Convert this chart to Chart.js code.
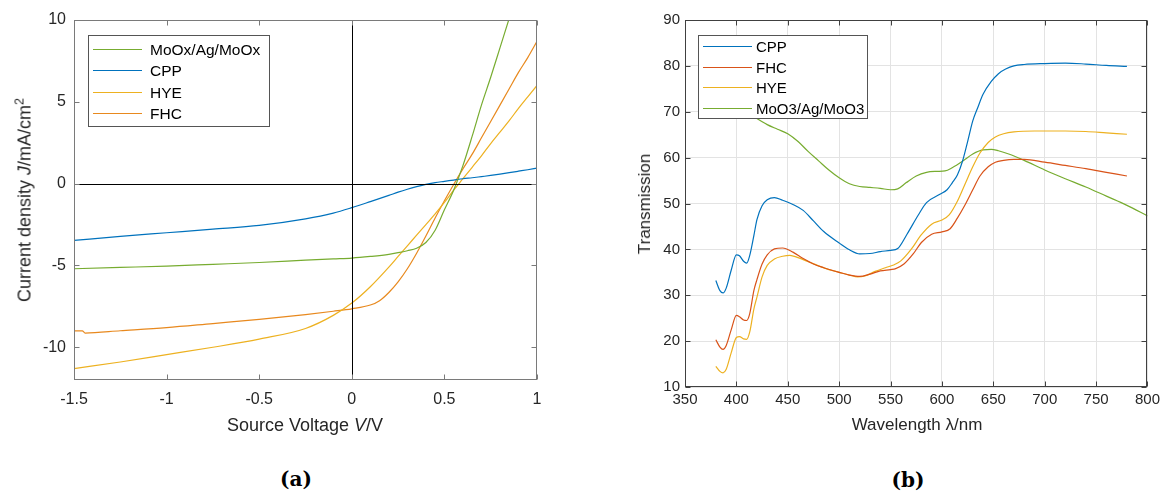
<!DOCTYPE html>
<html>
<head>
<meta charset="utf-8">
<script src="https://cdn.jsdelivr.net/npm/chart.js@4.4.1/dist/chart.umd.min.js"></script>
<style>
  body { margin: 0; background: #fff; }
  #page { position: relative; width: 1164px; height: 491px; overflow: hidden; background: #fff;
          font-family: 'Liberation Sans', Arial, sans-serif; color: #262626; }
  canvas { position: absolute; top: 0; }
  .lbl { position: absolute; white-space: nowrap; transform: translate(-50%, -50%); }
  .rot { transform: translate(-50%, -50%) rotate(-90deg); }
  .cap { position: absolute; font-family: 'DejaVu Serif', 'Liberation Serif', serif; font-weight: bold;
         font-size: 20px; color: #000; transform: translate(-50%, -50%); }
  sup { font-size: 0.7em; }
</style>
</head>
<body>
<div id="page">
  <canvas id="jv" width="560" height="430" style="left:0"></canvas>
  <canvas id="tr" width="574" height="440" style="left:590px"></canvas>

  <div class="lbl" style="left:305px; top:425px; font-size:18px">Source Voltage <i>V</i>/V</div>
  <div class="lbl rot" style="left:24px; top:200px; font-size:18px">Current density <i>J</i>/mA/cm<sup>2</sup></div>
  <div class="lbl" style="left:917px; top:425px; font-size:17px">Wavelength &lambda;/nm</div>
  <div class="lbl rot" style="left:645px; top:204px; font-size:17px">Transmission</div>
  <div class="cap" style="left:296px; top:479px">(a)</div>
  <div class="cap" style="left:908px; top:480px">(b)</div>
</div>
<script>
// (a) J-V curves
var jvTicksX = [-1.5, -1, -0.5, 0, 0.5, 1];
var jvTicksY = [-10, -5, 0, 5, 10];
var jvVoltage = [-1.5, -1.25, -1.0, -0.75, -0.5, -0.25, -0.1, 0, 0.1, 0.2, 0.25, 0.3, 0.35, 0.4, 0.45, 0.5, 0.55, 0.6, 0.65, 0.7, 0.75, 0.8, 0.85, 0.9, 0.95, 1.0];
var jvMoOx = [-5.2, -5.12, -5.04, -4.93, -4.82, -4.68, -4.6, -4.55, -4.45, -4.32, -4.22, -4.1, -3.95, -3.6, -2.85, -1.6, -0.4, 1.1, 2.9, 4.8, 6.5, 8.3, 10.1, 11.9, 13.7, 15.5];
var jvCPP = [-3.47, -3.22, -3.0, -2.78, -2.55, -2.15, -1.8, -1.47, -1.1, -0.72, -0.52, -0.34, -0.18, -0.04, 0.06, 0.14, 0.22, 0.3, 0.36, 0.43, 0.5, 0.58, 0.67, 0.76, 0.85, 0.95];
var jvHYE = [-11.3, -10.9, -10.45, -10.0, -9.5, -8.85, -8.05, -7.3, -6.3, -5.1, -4.45, -3.8, -3.15, -2.5, -1.85, -1.15, -0.4, 0.3, 1.0, 1.7, 2.45, 3.15, 3.85, 4.6, 5.3, 6.0];
var fhcVoltage = [-1.5, -1.455, -1.44, -1.25, -1.0, -0.75, -0.5, -0.25, -0.1, 0, 0.1, 0.15, 0.2, 0.25, 0.3, 0.35, 0.4, 0.45, 0.5, 0.55, 0.6, 0.65, 0.7, 0.75, 0.8, 0.85, 0.9, 0.95, 1.0];
var jvFHC = [-9.0, -9.0, -9.13, -8.99, -8.8, -8.55, -8.3, -8.0, -7.8, -7.65, -7.42, -7.15, -6.65, -6.0, -5.2, -4.25, -3.2, -2.1, -1.05, -0.05, 0.9, 1.8, 2.8, 3.8, 4.8, 5.8, 6.8, 7.7, 8.7];

// (b) transmission spectra
var trTicksX = [350, 400, 450, 500, 550, 600, 650, 700, 750, 800];
var trTicksY = [10, 20, 30, 40, 50, 60, 70, 80, 90];
var cppNm = [380, 384, 387, 390, 395, 400, 403, 407, 410, 413, 417, 420, 425, 430, 437, 445, 455, 465, 475, 485, 500, 510, 520, 530, 540, 550, 557, 566, 577, 585, 598, 605, 610, 615, 620, 625, 630, 635, 640, 648, 655, 662, 670, 680, 700, 720, 740, 760, 780];
var cppT = [33.2, 31.0, 30.5, 31.5, 35.5, 38.8, 38.6, 37.4, 37.0, 38.7, 43, 46.5, 49.5, 50.8, 51.3, 50.7, 49.8, 48.5, 46.2, 43.9, 41.4, 39.9, 39.0, 39.1, 39.5, 39.8, 40.2, 43.3, 47.5, 50.2, 52, 53, 54.5, 56.2, 59.2, 63.5, 68, 71, 73.8, 76.6, 78.3, 79.3, 80.0, 80.3, 80.5, 80.6, 80.4, 80.1, 79.9];
var fhcNm = [380, 384, 387, 390, 395, 400, 403, 407, 410, 413, 417, 420, 425, 430, 437, 445, 455, 465, 475, 485, 500, 510, 520, 530, 540, 550, 555, 563, 572, 580, 590, 600, 608, 615, 622, 630, 637, 645, 652, 660, 670, 680, 700, 720, 740, 760, 780];
var fhcT = [20.3, 18.7, 18.2, 19.0, 22.5, 25.6, 25.3, 24.6, 24.5, 26, 31, 33.4, 36.8, 38.8, 40.1, 40.3, 39.4, 38.0, 36.8, 36.0, 35.0, 34.4, 34.1, 34.6, 35.3, 35.6, 35.8, 36.8, 39, 41.5, 43.3, 43.8, 44.5, 46.8, 49.5, 53, 56, 58, 59, 59.4, 59.6, 59.6, 59.0, 58.3, 57.6, 56.8, 56.0];
var hyeNm = [380, 384, 387, 390, 395, 400, 403, 407, 410, 413, 417, 420, 425, 430, 437, 445, 452, 460, 470, 480, 490, 500, 510, 518, 525, 535, 545, 553, 560, 570, 580, 590, 600, 607, 615, 622, 630, 637, 645, 652, 660, 670, 690, 720, 740, 760, 780];
var hyeT = [14.5, 13.4, 13.1, 13.8, 17.5, 20.8, 21.0, 20.5, 20.4, 22, 27, 29.6, 34, 36.5, 37.9, 38.5, 38.7, 38.2, 37.3, 36.4, 35.6, 35.0, 34.4, 34.0, 34.2, 35.2, 36.0, 36.6, 37.5, 40, 43.2, 45.5, 46.4, 47.5, 50.5, 54, 58, 61, 63.3, 64.5, 65.2, 65.6, 65.8, 65.8, 65.7, 65.4, 65.1];
var mooNm = [380, 400, 418, 430, 440, 450, 460, 470, 480, 490, 500, 510, 520, 530, 540, 550, 557, 565, 575, 585, 595, 603, 610, 620, 630, 640, 648, 655, 665, 680, 700, 720, 740, 760, 780, 800];
var mooT = [73.5, 71.5, 68.8, 67.2, 66.2, 65.2, 63.5, 61.3, 59.3, 57.3, 55.6, 54.3, 53.7, 53.5, 53.3, 53.0, 53.2, 54.5, 56, 56.8, 57, 57.1, 57.8, 59.2, 60.8, 61.7, 61.8, 61.5, 60.8, 59.4, 57.3, 55.4, 53.6, 51.6, 49.6, 47.3];

function pts(xs, ys) {
  return xs.map(function(v, i) { return {x: v, y: ys[i]}; });
}
function line(label, xs, ys, color) {
  return {
    label: label, data: pts(xs, ys), showLine: true, borderColor: color, backgroundColor: color,
    borderWidth: 1.2, pointRadius: 0, cubicInterpolationMode: 'monotone', fill: false
  };
}

// box round the axes with inward ticks, MATLAB style
var frame = {
  id: 'frame',
  afterDatasetsDraw: function(chart, args, o) {
    var ctx = chart.ctx, a = chart.chartArea, sx = chart.scales.x, sy = chart.scales.y;
    var L = Math.round(a.left) + 0.5, R = Math.round(a.right) - 0.5;
    var T = Math.round(a.top) + 0.5, B = Math.round(a.bottom) - 0.5;
    ctx.save();
    if (o.zeroLines) {
      ctx.strokeStyle = '#000';
      ctx.lineWidth = 1;
      var zx = Math.round(sx.getPixelForValue(0)) + 0.5, zy = Math.round(sy.getPixelForValue(0)) + 0.5;
      ctx.beginPath();
      ctx.moveTo(zx, T); ctx.lineTo(zx, B);
      ctx.moveTo(L, zy); ctx.lineTo(R, zy);
      ctx.stroke();
    }
    ctx.strokeStyle = o.color;
    ctx.lineWidth = 1;
    ctx.strokeRect(L, T, R - L, B - T);
    ctx.beginPath();
    sx.ticks.forEach(function(t) {
      var px = Math.round(sx.getPixelForValue(t.value)) + 0.5;
      ctx.moveTo(px, B); ctx.lineTo(px, B - o.len);
      ctx.moveTo(px, T); ctx.lineTo(px, T + o.len);
    });
    sy.ticks.forEach(function(t) {
      var py = Math.round(sy.getPixelForValue(t.value)) + 0.5;
      ctx.moveTo(L, py); ctx.lineTo(L + o.len, py);
      ctx.moveTo(R, py); ctx.lineTo(R - o.len, py);
    });
    ctx.stroke();
    ctx.restore();
  }
};

// opaque legend box inside the axes
var boxLegend = {
  id: 'boxLegend',
  afterDraw: function(chart, args, o) {
    var ctx = chart.ctx;
    ctx.save();
    ctx.fillStyle = '#fff';
    ctx.fillRect(o.x, o.y, o.w, o.h);
    ctx.strokeStyle = '#555';
    ctx.lineWidth = 1;
    ctx.strokeRect(o.x + 0.5, o.y + 0.5, o.w, o.h);
    ctx.font = o.font;
    ctx.textBaseline = 'middle';
    chart.data.datasets.forEach(function(ds, i) {
      var yy = Math.round(o.row0 + i * o.dy) + 0.5;
      ctx.strokeStyle = ds.borderColor;
      ctx.lineWidth = 1.2;
      ctx.beginPath();
      ctx.moveTo(o.l1, yy); ctx.lineTo(o.l2, yy);
      ctx.stroke();
      ctx.fillStyle = '#000';
      ctx.fillText(ds.label, o.tx, yy + 1);
    });
    ctx.restore();
  }
};

Chart.defaults.font.family = "'Liberation Sans', Arial, sans-serif";
Chart.defaults.color = '#262626';

function fixTicks(arr) {
  return function(scale) { scale.ticks = arr.map(function(v) { return {value: v}; }); };
}
function plain(v) { return String(v); }

new Chart(document.getElementById('jv'), {
  type: 'scatter',
  data: {
    datasets: [
      line('MoOx/Ag/MoOx', jvVoltage, jvMoOx, '#77AC30'),
      line('CPP', jvVoltage, jvCPP, '#0072BD'),
      line('HYE', jvVoltage, jvHYE, '#EDB120'),
      line('FHC', fhcVoltage, jvFHC, '#E8891E')
    ]
  },
  plugins: [frame, boxLegend],
  options: {
    responsive: false, animation: false, devicePixelRatio: 1,
    layout: {padding: {left: 0, right: 23, top: 20, bottom: 5}},
    plugins: {
      legend: {display: false}, tooltip: {enabled: false},
      frame: {color: '#7a7a7a', len: 5, zeroLines: true},
      boxLegend: {x: 88, y: 35, w: 181, h: 91, l1: 93, l2: 142, tx: 150, row0: 49, dy: 21.3, font: "15.5px 'Liberation Sans', Arial, sans-serif"}
    },
    scales: {
      x: {
        type: 'linear', min: -1.5, max: 1,
        afterBuildTicks: fixTicks(jvTicksX),
        afterFit: function(s) { s.height = 45; },
        grid: {display: false, drawTicks: false}, border: {display: false},
        ticks: {font: {size: 16}, padding: 10, maxRotation: 0, callback: plain}
      },
      y: {
        type: 'linear', min: -12, max: 10,
        afterBuildTicks: fixTicks(jvTicksY),
        afterFit: function(s) { s.width = 74; },
        grid: {display: false, drawTicks: false}, border: {display: false},
        ticks: {font: {size: 16}, padding: 8, callback: plain}
      }
    }
  }
});

new Chart(document.getElementById('tr'), {
  type: 'scatter',
  data: {
    datasets: [
      line('CPP', cppNm, cppT, '#0072BD'),
      line('FHC', fhcNm, fhcT, '#D95319'),
      line('HYE', hyeNm, hyeT, '#EDB120'),
      line('MoO3/Ag/MoO3', mooNm, mooT, '#77AC30')
    ]
  },
  plugins: [frame, boxLegend],
  options: {
    responsive: false, animation: false, devicePixelRatio: 1,
    layout: {padding: {left: 0, right: 14, top: 20, bottom: 5}},
    plugins: {
      legend: {display: false}, tooltip: {enabled: false},
      frame: {color: '#404040', len: 5, zeroLines: false},
      boxLegend: {x: 108, y: 35, w: 169, h: 83, l1: 113, l2: 162, tx: 166, row0: 46, dy: 20.7, font: "15px 'Liberation Sans', Arial, sans-serif"}
    },
    scales: {
      x: {
        type: 'linear', min: 350, max: 800,
        afterBuildTicks: fixTicks(trTicksX),
        afterFit: function(s) { s.height = 48; },
        grid: {color: '#e3e3e3', drawTicks: false}, border: {display: false},
        ticks: {font: {size: 15}, padding: 4, maxRotation: 0, callback: plain}
      },
      y: {
        type: 'linear', min: 10, max: 90,
        afterBuildTicks: fixTicks(trTicksY),
        afterFit: function(s) { s.width = 95; },
        grid: {color: '#e3e3e3', drawTicks: false}, border: {display: false},
        ticks: {font: {size: 15}, padding: 5, callback: plain}
      }
    }
  }
});
</script>
</body>
</html>
